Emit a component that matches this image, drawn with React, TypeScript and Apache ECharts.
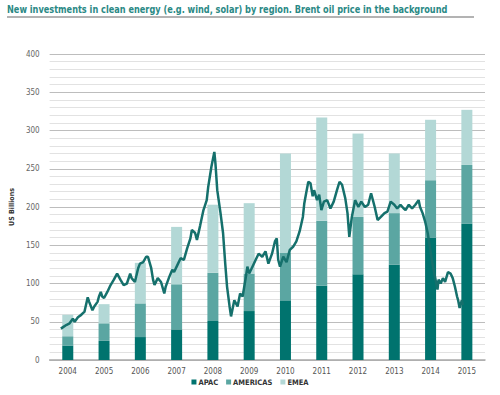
import React, { useEffect, useRef } from "react";
import * as echarts from "echarts";

const years = ["2004","2005","2006","2007","2008","2009","2010","2011","2012","2013","2014","2015"];
const apac = [19, 25, 30, 40, 51, 64, 78, 97, 112, 125, 160, 178];
const americas = [12, 23, 44, 59, 63, 49, 62, 85, 75, 67, 75, 77];
const emea = [28, 25, 53, 75, 89, 92, 130, 135, 109, 78, 79, 72];

const oilYear = [
  2003.81, 2003.87, 2003.97, 2004.05, 2004.14, 2004.19, 2004.28, 2004.37, 2004.41, 2004.46,
  2004.55, 2004.59, 2004.68, 2004.73, 2004.82, 2004.86, 2004.91, 2004.95, 2005.0, 2005.09,
  2005.18, 2005.27, 2005.36, 2005.45, 2005.54, 2005.63, 2005.72, 2005.76, 2005.85, 2005.94,
  2005.99, 2006.08, 2006.16, 2006.21, 2006.3, 2006.35, 2006.39, 2006.48, 2006.57, 2006.66,
  2006.7, 2006.8, 2006.88, 2006.93, 2007.02, 2007.11, 2007.2, 2007.29, 2007.38, 2007.42,
  2007.51, 2007.56, 2007.65, 2007.74, 2007.83, 2007.87, 2007.96, 2008.04, 2008.07, 2008.12,
  2008.21, 2008.28, 2008.34, 2008.39, 2008.46, 2008.5, 2008.59, 2008.68, 2008.75, 2008.82,
  2008.91, 2008.95, 2009.0, 2009.09, 2009.18, 2009.26, 2009.36, 2009.45, 2009.53, 2009.63,
  2009.71, 2009.76, 2009.8, 2009.85, 2009.94, 2010.03, 2010.12, 2010.21, 2010.3, 2010.39,
  2010.48, 2010.52, 2010.57, 2010.63, 2010.69, 2010.75, 2010.79, 2010.87, 2010.93, 2010.99,
  2011.06, 2011.15, 2011.24, 2011.33, 2011.42, 2011.49, 2011.56, 2011.65, 2011.71, 2011.76,
  2011.83, 2011.92, 2012.01, 2012.09, 2012.19, 2012.28, 2012.36, 2012.46, 2012.54, 2012.63,
  2012.73, 2012.81, 2012.9, 2013.0, 2013.08, 2013.17, 2013.26, 2013.31, 2013.4, 2013.49,
  2013.58, 2013.67, 2013.71, 2013.78, 2013.85, 2013.92, 2013.98, 2014.05, 2014.12, 2014.19,
  2014.22, 2014.28, 2014.34, 2014.4, 2014.48, 2014.55, 2014.61, 2014.67, 2014.73, 2014.76,
  2014.8, 2014.86, 2014.89
];
const oilPrice = [
  41, 43, 46, 48, 54, 50, 56, 59, 61, 63,
  82, 76, 65, 70, 76, 83, 89, 83, 81, 89,
  98, 105, 113, 105, 98, 100, 113, 107, 102, 120,
  126, 128, 135, 135, 120, 105, 98, 107, 102, 87,
  96, 109, 118, 115, 124, 133, 131, 146, 159, 170,
  166, 157, 176, 196, 209, 226, 253, 272, 257, 222,
  192, 166, 126, 96, 70, 57, 78, 70, 87, 83,
  109, 122, 113, 122, 131, 139, 135, 142, 126, 139,
  155, 159, 131, 122, 135, 128, 144, 148, 155, 168,
  187, 205, 218, 233, 231, 214, 222, 209, 216, 196,
  207, 209, 198, 207, 222, 233, 229, 211, 192, 161,
  187, 209, 200, 207, 200, 203, 218, 200, 183, 187,
  192, 194, 207, 203, 198, 203, 198, 196, 203, 198,
  203, 209, 200, 192, 181, 166, 148, 126, 109, 92,
  105, 100, 107, 102, 115, 113, 107, 96, 83, 78,
  68, 78, 72
];

const TITLE = "New investments in clean energy (e.g. wind, solar) by region. Brent oil price in the background";

const C_APAC = "#00736e";
const C_AMER = "#5ba6a2";
const C_EMEA = "#b3d8d6";
const C_LINE = "#15706c";

export default function App() {
  const ref = useRef<HTMLDivElement>(null);
  useEffect(() => {
    if (!ref.current) return;
    const chart = echarts.init(ref.current, undefined, { renderer: "svg" });
    const font = "'DejaVu Sans Condensed', 'DejaVu Sans', sans-serif";
    const titleFont = "bold 11px " + font;
    let titleScale = 0.8;
    try {
      const cv = document.createElement("canvas");
      const ctx = cv.getContext("2d");
      if (ctx) {
        ctx.font = titleFont;
        const w = ctx.measureText(TITLE).width;
        if (w > 0) titleScale = 441 / w;
      }
    } catch (e) {}
    chart.setOption({
      animation: false,
      backgroundColor: "#ffffff",
      textStyle: { fontFamily: font },
      graphic: [
        {
          type: "text",
          x: 7,
          y: 4,
          scaleX: titleScale,
          style: {
            text: TITLE,
            fill: "#2a8985",
            font: titleFont,
            textVerticalAlign: "top",
          },
        },
        {
          type: "line",
          shape: { x1: 7, y1: 17, x2: 474, y2: 17 },
          style: { stroke: "#9a9a9a", lineWidth: 1.5 },
        },
      ],
      legend: {
        bottom: 4,
        left: "center",
        itemWidth: 5,
        itemHeight: 5,
        itemGap: 8,
        icon: "rect",
        data: ["APAC", "AMERICAS", "EMEA"],
        textStyle: { fontSize: 7.5, fontWeight: "bold", color: "#333", padding: [0, 0, 0, -3] },
      },
      grid: { left: 37, right: 15, top: 54, bottom: 35 },
      xAxis: [
        {
          type: "category",
          data: years,
          axisLine: { lineStyle: { color: "#aaaaaa", width: 1.5 } },
          axisTick: { show: false },
          axisLabel: { color: "#555", fontSize: 8, margin: 7 },
        },
        {
          type: "value",
          min: 2003.5,
          max: 2015.5,
          show: false,
        },
      ],
      yAxis: {
        type: "value",
        min: 0,
        max: 400,
        interval: 50,
        name: "US Billions",
        nameLocation: "middle",
        nameGap: 24,
        nameTextStyle: { fontSize: 7, fontWeight: "bold", color: "#333" },
        axisLine: { show: false },
        axisTick: { show: false },
        axisLabel: { color: "#666", fontSize: 8, margin: 10 },
        splitLine: { lineStyle: { color: "#bdbdbd", width: 1 } },
        minorSplitLine: { show: true, lineStyle: { color: "#e2e2e2", width: 1 } },
        minorTick: { show: false, splitNumber: 5 },
      },
      series: [
        { name: "APAC", type: "bar", stack: "t", data: apac, barWidth: 11, itemStyle: { color: C_APAC } },
        { name: "AMERICAS", type: "bar", stack: "t", data: americas, barWidth: 11, itemStyle: { color: C_AMER } },
        { name: "EMEA", type: "bar", stack: "t", data: emea, barWidth: 11, itemStyle: { color: C_EMEA } },
        {
          name: "Brent",
          type: "line",
          xAxisIndex: 1,
          data: oilYear.map((t, i) => [t, oilPrice[i]]),
          showSymbol: false,
          symbol: "none",
          lineStyle: { color: C_LINE, width: 2.5 },
          z: 5,
        },
      ],
    });
    return () => chart.dispose();
  }, []);
  return <div ref={ref} style={{ width: 500, height: 395, position: "absolute", left: 0, top: 0 }} />;
}
